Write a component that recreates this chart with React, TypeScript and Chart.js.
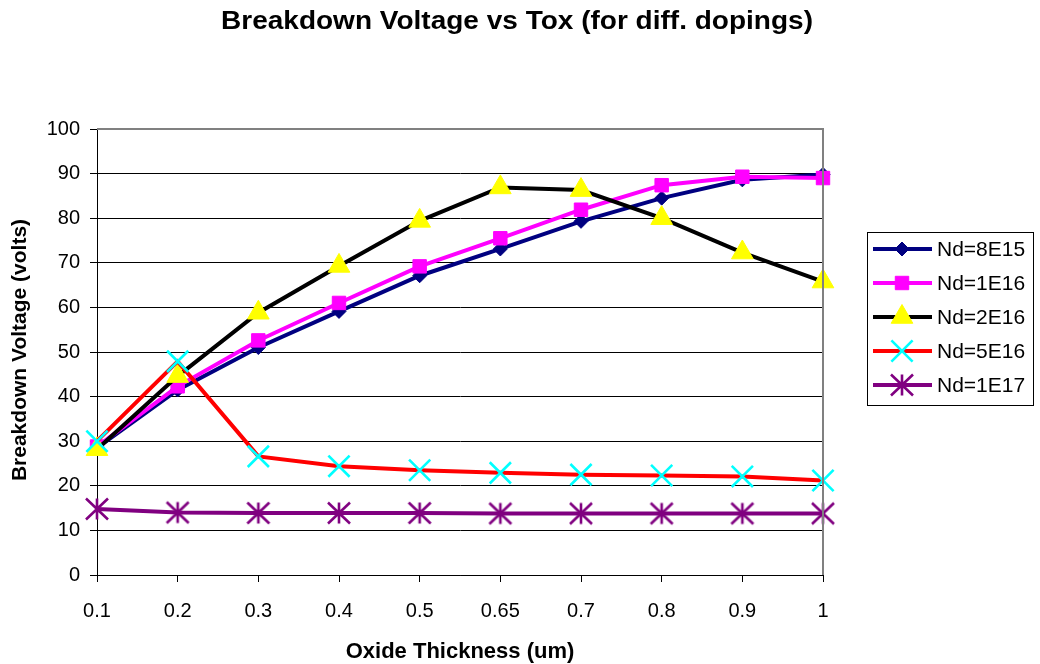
import React, { useEffect, useRef } from 'react';
import { Chart, registerables } from 'chart.js';
import { drawPoint } from 'chart.js/helpers';

Chart.register(...registerables);

// Oxide thickness categories (um)
const oxideThickness = ['0.1', '0.2', '0.3', '0.4', '0.5', '0.65', '0.7', '0.8', '0.9', '1'];

// Breakdown voltage (volts) per doping level
const nd8e15 = [28.5, 41.5, 51.0, 59.1, 67.1, 73.1, 79.3, 84.5, 88.6, 89.8];
const nd1e16 = [28.8, 42.3, 52.6, 61.0, 69.2, 75.5, 81.9, 87.4, 89.3, 89.0];
const nd2e16 = [28.2, 44.6, 58.8, 69.3, 79.4, 86.9, 86.3, 80.0, 72.3, 65.8];
const nd5e16 = [30.0, 47.9, 26.6, 24.4, 23.5, 22.9, 22.5, 22.3, 22.1, 21.2];
const nd1e17 = [14.8, 14.0, 13.9, 13.9, 13.9, 13.8, 13.8, 13.8, 13.8, 13.8];

const seriesLabels = ['Nd=8E15', 'Nd=1E16', 'Nd=2E16', 'Nd=5E16', 'Nd=1E17'];

const yMin = 0;
const yMax = 100;
const yStep = 10;

const chartTitle = 'Breakdown Voltage vs Tox (for diff. dopings)';
const xTitle = 'Oxide Thickness (um)';
const yTitle = 'Breakdown Voltage (volts)';

const FONT = "'Liberation Sans', Arial, Helvetica, sans-serif";

// Six-armed asterisk marker
function makeAsterisk(color: string): HTMLCanvasElement {
  const c = document.createElement('canvas');
  c.width = 26;
  c.height = 26;
  const g = c.getContext('2d')!;
  g.strokeStyle = color;
  g.lineWidth = 2.6;
  g.lineCap = 'butt';
  g.beginPath();
  g.moveTo(13, 2.5);
  g.lineTo(13, 23.5);
  g.moveTo(2, 2.5);
  g.lineTo(24, 23.5);
  g.moveTo(24, 2.5);
  g.lineTo(2, 23.5);
  g.stroke();
  return c;
}

function fitText(ctx: CanvasRenderingContext2D, text: string, cx: number, baseline: number, width: number) {
  const w = ctx.measureText(text).width;
  ctx.save();
  ctx.translate(cx, baseline);
  ctx.scale(width / w, 1);
  ctx.textAlign = 'center';
  ctx.textBaseline = 'alphabetic';
  ctx.fillText(text, 0, 0);
  ctx.restore();
}

const decorations = {
  id: 'decorations',
  beforeDraw(chart: any) {
    const ctx = chart.ctx as CanvasRenderingContext2D;
    ctx.save();
    ctx.fillStyle = '#ffffff';
    ctx.fillRect(0, 0, chart.width, chart.height);
    ctx.restore();
  },
  afterDraw(chart: any) {
    const ctx = chart.ctx as CanvasRenderingContext2D;
    const area = chart.chartArea;

    // plot frame on the top and right
    ctx.save();
    ctx.strokeStyle = '#808080';
    ctx.lineWidth = 2;
    ctx.beginPath();
    ctx.moveTo(area.left, area.top);
    ctx.lineTo(area.right, area.top);
    ctx.lineTo(area.right, area.bottom);
    ctx.stroke();
    ctx.restore();

    ctx.save();
    ctx.fillStyle = '#000000';

    // chart title
    ctx.font = `bold 26px ${FONT}`;
    fitText(ctx, chartTitle, 517, 29, 592);

    // x axis title
    ctx.font = `bold 22px ${FONT}`;
    ctx.textAlign = 'center';
    ctx.textBaseline = 'alphabetic';
    ctx.fillText(xTitle, 460, 658);

    // y axis title
    ctx.save();
    ctx.translate(25.5, 350);
    ctx.rotate(-Math.PI / 2);
    ctx.font = `bold 21px ${FONT}`;
    ctx.textAlign = 'center';
    ctx.textBaseline = 'alphabetic';
    ctx.fillText(yTitle, 0, 0);
    ctx.restore();

    // legend
    const box = { x: 867.5, y: 232.5, w: 166, h: 173 };
    ctx.strokeStyle = '#000000';
    ctx.lineWidth = 1;
    ctx.strokeRect(box.x, box.y, box.w, box.h);
    chart.data.datasets.forEach((ds: any, i: number) => {
      const cy = 249 + i * 34;
      ctx.save();
      ctx.strokeStyle = ds.borderColor;
      ctx.lineWidth = ds.borderWidth;
      ctx.beginPath();
      ctx.moveTo(873, cy);
      ctx.lineTo(932, cy);
      ctx.stroke();
      ctx.fillStyle = ds.pointBackgroundColor;
      ctx.strokeStyle = ds.pointBorderColor;
      ctx.lineWidth = ds.pointBorderWidth;
      drawPoint(ctx, { pointStyle: ds.pointStyle, radius: ds.pointRadius, rotation: 0, borderWidth: ds.pointBorderWidth }, 902, cy);
      ctx.restore();
      ctx.fillStyle = '#000000';
      ctx.font = `21px ${FONT}`;
      ctx.textAlign = 'left';
      ctx.textBaseline = 'middle';
      ctx.fillText(ds.label, 937, cy + 1);
    });
    ctx.restore();
  },
};

export default function App() {
  const canvasRef = useRef<HTMLCanvasElement | null>(null);

  useEffect(() => {
    const canvas = canvasRef.current;
    if (!canvas) return;
    const asterisk = makeAsterisk('#800080');

    const seriesValues = [nd8e15, nd1e16, nd2e16, nd5e16, nd1e17];
    const lineColors = ['#000080', '#ff00ff', '#000000', '#ff0000', '#800080'];
    const markerFill = ['#000080', '#ff00ff', '#ffff00', '#00ffff', '#800080'];
    const markerStyles: any[] = ['rectRot', 'rect', 'triangle', 'crossRot', asterisk];
    const markerRadius = [7, 9.5, 12.5, 15, 13];
    const markerBorder = [1, 1, 1, 2.6, 1];

    const chart = new Chart(canvas, {
      type: 'line',
      data: {
        labels: oxideThickness,
        datasets: seriesValues.map((values, i) => ({
          label: seriesLabels[i],
          data: values,
          borderColor: lineColors[i],
          borderWidth: 4,
          tension: 0,
          fill: false,
          pointStyle: markerStyles[i],
          pointRadius: markerRadius[i],
          pointBackgroundColor: markerFill[i],
          pointBorderColor: markerFill[i],
          pointBorderWidth: markerBorder[i],
          order: seriesValues.length - i,
        })),
      },
      plugins: [decorations],
      options: {
        responsive: false,
        animation: false,
        events: [],
        layout: { padding: { top: 129, right: 217, left: 0, bottom: 0 } },
        plugins: {
          legend: { display: false },
          title: { display: false },
          tooltip: { enabled: false },
        },
        scales: {
          x: {
            type: 'category',
            offset: false,
            ticks: {
              color: '#000000',
              font: { family: FONT, size: 20 },
              padding: 17,
              maxRotation: 0,
              autoSkip: false,
            },
            grid: {
              drawOnChartArea: false,
              drawTicks: true,
              tickLength: 7,
              tickColor: '#000000',
              tickWidth: 1,
            },
            border: { color: '#000000', width: 1 },
            afterFit: (s: any) => {
              s.height = 89;
            },
          },
          y: {
            min: yMin,
            max: yMax,
            ticks: {
              stepSize: yStep,
              color: '#000000',
              font: { family: FONT, size: 20 },
              padding: 10,
            },
            grid: {
              color: (c: any) => (c.tick && c.tick.value === yMax ? '#808080' : '#000000'),
              lineWidth: 1,
              drawTicks: true,
              tickLength: 7,
              tickColor: '#000000',
            },
            border: { color: '#000000', width: 1 },
            afterFit: (s: any) => {
              s.width = 97;
            },
          },
        },
      },
    });

    return () => chart.destroy();
  }, []);

  return (
    <div style={{ position: 'fixed', left: 0, top: 0, width: 1040, height: 664, background: '#fff' }}>
      <canvas ref={canvasRef} width={1040} height={664} style={{ width: 1040, height: 664, display: 'block' }} />
    </div>
  );
}
